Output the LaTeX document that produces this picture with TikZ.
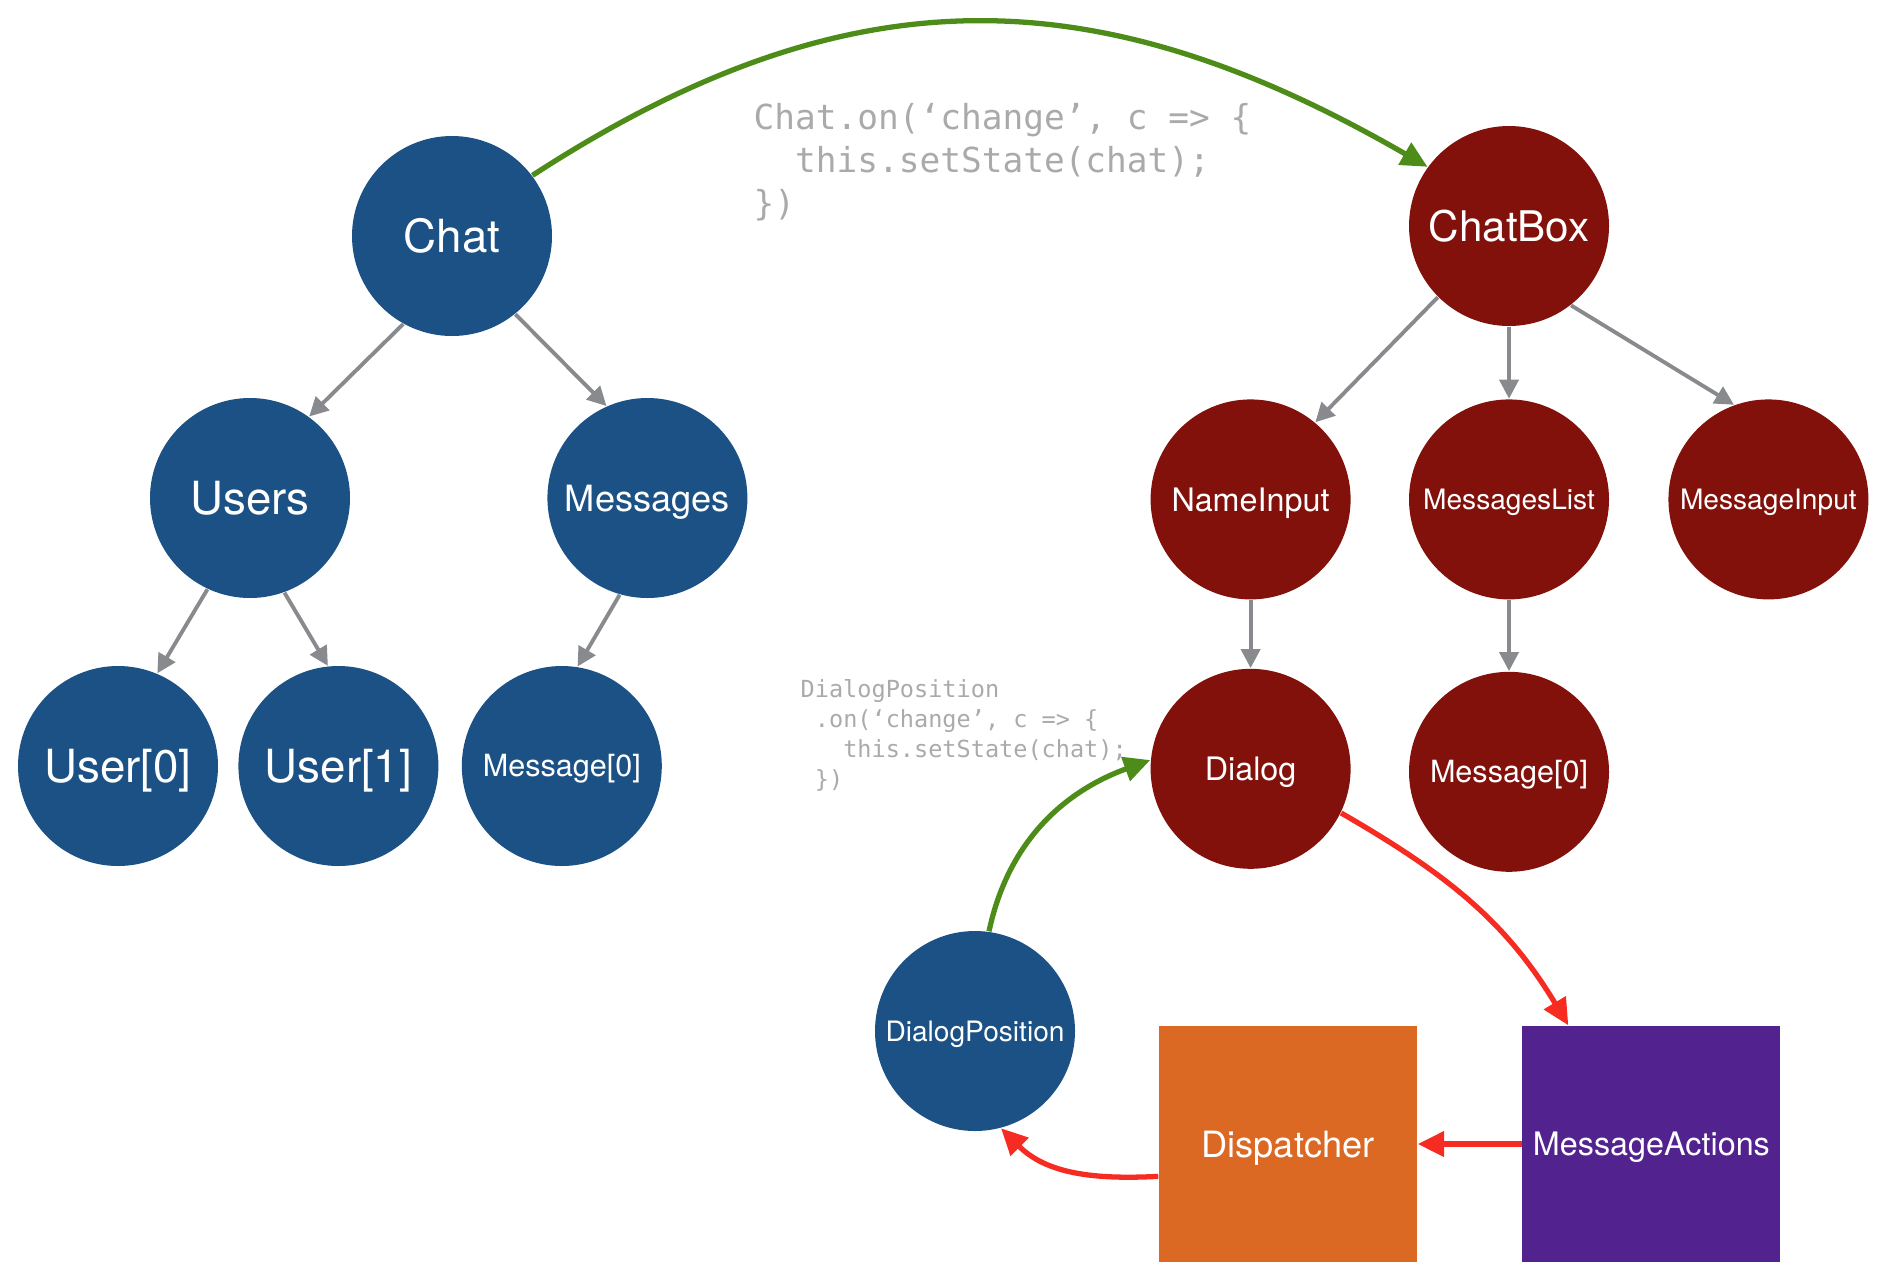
\documentclass[tikz,border=0pt]{standalone}
\usepackage{fontspec}
\setmainfont{TeX Gyre Heros}
\setmonofont{DejaVu Sans Mono}
\usepackage{xcolor}
\usepackage{tikz}
\usetikzlibrary{arrows.meta,positioning,calc}
\definecolor{storeblue}{RGB}{28,81,133}
\definecolor{viewred}{RGB}{130,17,12}
\definecolor{dispatchorange}{RGB}{219,105,35}
\definecolor{actionpurple}{RGB}{82,35,143}
\definecolor{listengreen}{RGB}{78,140,26}
\definecolor{actionred}{RGB}{246,43,33}
\definecolor{edgegray}{RGB}{136,138,142}
\definecolor{codegray}{RGB}{170,170,170}
\tikzset{
    store/.style={circle, fill=storeblue, text=white, minimum size=2cm, inner sep=0pt},
    view/.style={circle, fill=viewred, text=white, minimum size=2cm, inner sep=0pt},
    box/.style={rectangle, text=white, minimum width=2.58cm, minimum height=2.36cm, inner sep=0pt},
    line/.style={draw, edgegray, line width=1.1pt, -{Triangle[length=5.4pt, width=5.4pt]}},
    listen/.style={draw, listengreen, line width=1.5pt, -{Triangle[length=7.5pt, width=7pt]}},
    action/.style={draw, actionred, line width=1.5pt, -{Triangle[length=7.5pt, width=7pt]}},
    code/.style={text=codegray, align=left, inner sep=0pt, anchor=north west},
    bigtext/.style={font=\fontsize{13}{15}\selectfont, text height=11.9pt, text depth=2.6pt},
    boxtext/.style={font=\fontsize{12}{14}\selectfont, text height=11pt, text depth=2.4pt},
    midtext/.style={font=\fontsize{10.3}{12}\selectfont, text height=9.46pt, text depth=2.06pt},
    smalltext/.style={font=\fontsize{9.2}{11}\selectfont, text height=8.45pt, text depth=1.84pt},
    tinytext/.style={font=\fontsize{8.7}{10}\selectfont, text height=7.99pt, text depth=1.74pt},
    minitext/.style={font=\fontsize{8}{10}\selectfont, text height=7.34pt, text depth=1.6pt}
}
\begin{document}
\begin{tikzpicture}[node distance=2cm, auto]
    \useasboundingbox (0,0) rectangle (18.86,-12.70);

    % Code
    \node [code, font=\fontsize{9.8}{12.2}\selectfont\ttfamily] (chatlisten) at (7.53,-1.03) {Chat.on(‘change’, c => \{\\\ \ this.setState(chat);\\\})};
    \node [code, font=\fontsize{6.7}{8.5}\selectfont\ttfamily] (dialoglisten) at (8.00,-6.79) {DialogPosition\\\ .on(‘change’, c => \{\\\ \ \ this.setState(chat);\\\ \})};

    % Stores
    \node [store, bigtext] (chat) at (4.52,-2.36) {Chat};
    \node [store, bigtext] (users) at (2.50,-4.98) {Users};
    \node [store, midtext, right=1.96cm of users] (messages) {Messages};
    \node [store, bigtext] (user0) at (1.18,-7.66) {User[0]};
    \node [store, bigtext, right=0.19cm of user0] (user1) {User[1]};
    \node [store, tinytext, right=0.22cm of user1] (message0) {Message[0]};
    \node [store, minitext] (dialogpos) at (9.75,-10.31) {DialogPosition};

    % Views
    \node [view, boxtext] (chatbox) at (15.09,-2.26) {ChatBox};
    \node [view, minitext, below=0.72cm of chatbox] (messageslist) {MessagesList};
    \node [view, smalltext, left=0.57cm of messageslist] (nameinput) {NameInput};
    \node [view, minitext, right=0.58cm of messageslist] (messageinput) {MessageInput};
    \node [view, smalltext, below=0.68cm of nameinput] (dialog) {Dialog};
    \node [view, tinytext, below=0.71cm of messageslist] (msgzero) {Message[0]};

    % Flux
    \node [box, midtext, fill=dispatchorange] (dispatcher) at (12.88,-11.44) {Dispatcher};
    \node [box, smalltext, fill=actionpurple, right=1.04cm of dispatcher] (msgactions) {MessageActions};

    % Tree arrows
    \path [line] (chat.241) -- (users.54);
    \path [line] (chat.309) -- (messages.114);
    \path [line] (users.245) -- (user0.67);
    \path [line] (users.290) -- (user1.96);
    \path [line] (messages.254) -- (message0.81);
    \path [line] (chatbox.225) -- (nameinput.50);
    \path [line] (chatbox) -- (messageslist);
    \path [line] (chatbox.308) -- (messageinput.110);
    \path [line] (nameinput) -- (dialog);
    \path [line] (messageslist) -- (msgzero);

    % Listeners
    \path [listen] (chat.37) .. controls +(33:3.8) and +(150:3.8) .. (chatbox.144);
    \path [listen] (dialogpos.82) to[out=78, in=200] (dialog.175);

    % Actions
    \path [action] (dialog.334) to[out=-30, in=121] (msgactions.125);
    \path [action] (msgactions) -- (dispatcher);
    \path [action] (dispatcher.194) to[out=183, in=-45] (dialogpos.285);
\end{tikzpicture}
\end{document}
